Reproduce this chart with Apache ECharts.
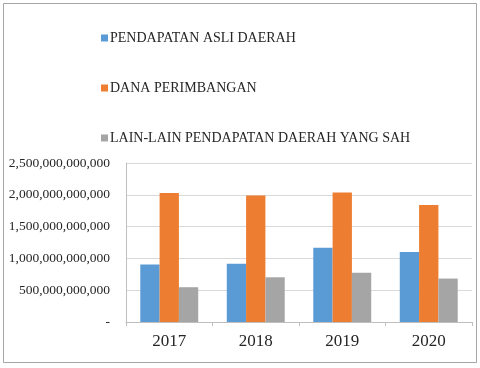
<!DOCTYPE html>
<html>
<head>
<meta charset="utf-8">
<script src="https://cdn.jsdelivr.net/npm/echarts@6/dist/echarts.min.js"></script>
<style>
  html, body { margin: 0; padding: 0; background: #fff; }
  #chart { width: 480px; height: 368px; }
</style>
</head>
<body>
<div id="chart"></div>
<script>
// data
const years = ['2017', '2018', '2019', '2020']
const seriesNames = ['PENDAPATAN ASLI DAERAH', 'DANA PERIMBANGAN', 'LAIN-LAIN PENDAPATAN DAERAH YANG SAH']
const pad = [906e9, 917e9, 1167e9, 1099e9]
const danaPerimbangan = [2030e9, 1990e9, 2036e9, 1839e9]
const lainLain = [547e9, 703e9, 776e9, 683e9]
const colors = ['#5b9bd5', '#ed7d31', '#a5a5a5']

const serif = '"Liberation Serif", "DejaVu Serif", serif'

const chart = echarts.init(document.getElementById('chart'))

function formatValue(v) {
  if (v === 0) return '-'
  return v.toLocaleString('en-US')
}

chart.setOption({
  animation: false,
  color: colors,
  textStyle: { fontFamily: serif },
  graphic: [{
    type: 'rect',
    shape: { x: 3.5, y: 3.5, width: 473, height: 359 },
    style: { fill: 'none', stroke: '#a6a6a6', lineWidth: 1 },
    silent: true
  }],
  legend: {
    orient: 'vertical',
    left: 101,
    top: 30,
    padding: 0,
    itemWidth: 7,
    itemHeight: 7,
    itemGap: 34,
    icon: 'rect',
    textStyle: { fontFamily: serif, fontSize: 14, color: '#262626', lineHeight: 16, padding: [0, 0, 0, -3] },
    data: seriesNames
  },
  grid: {
    left: 126,
    right: 8,
    top: 163,
    bottom: 46
  },
  xAxis: {
    type: 'category',
    data: years,
    axisLine: { lineStyle: { color: '#bfbfbf' } },
    axisTick: { show: true, length: 4, lineStyle: { color: '#bfbfbf' } },
    axisLabel: { fontFamily: serif, fontSize: 17, color: '#262626', margin: 11 }
  },
  yAxis: {
    type: 'value',
    min: 0,
    max: 2500e9,
    interval: 500e9,
    axisLine: { show: true, lineStyle: { color: '#bfbfbf' } },
    axisTick: { show: false },
    splitLine: { lineStyle: { color: '#d9d9d9' } },
    axisLabel: { fontFamily: serif, fontSize: 13.5, color: '#262626', margin: 16, formatter: formatValue }
  },
  series: [
    { name: seriesNames[0], type: 'bar', data: pad, barGap: '0%', barCategoryGap: '33%' },
    { name: seriesNames[1], type: 'bar', data: danaPerimbangan, barGap: '0%', barCategoryGap: '33%' },
    { name: seriesNames[2], type: 'bar', data: lainLain, barGap: '0%', barCategoryGap: '33%' }
  ]
})
</script>
</body>
</html>
